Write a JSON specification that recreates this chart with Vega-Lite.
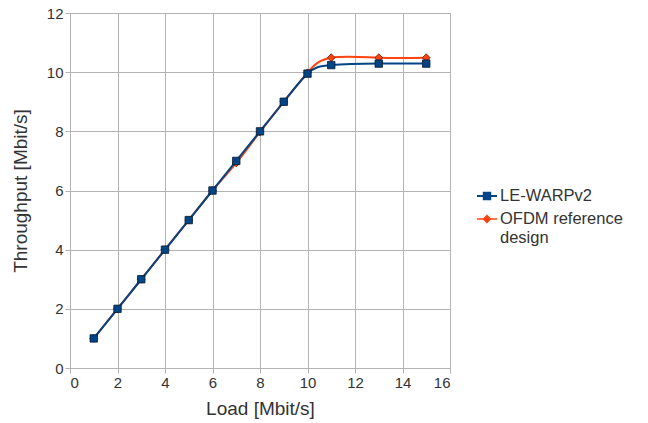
{
  "$schema": "https://vega.github.io/schema/vega-lite/v6.json",
  "width": 380,
  "height": 355,
  "autosize": {"type": "none"},
  "padding": {"left": 70, "top": 13, "right": 198, "bottom": 55},
  "background": "white",
  "config": {
    "font": "Liberation Sans",
    "view": {"stroke": "#b3b3b3", "strokeWidth": 1},
    "axis": {
      "gridColor": "#b3b3b3",
      "gridWidth": 1,
      "domain": false,
      "tickColor": "#b3b3b3",
      "tickSize": 5,
      "labelFontSize": 15,
      "labelColor": "#333333",
      "titleFontSize": 19,
      "titleFontWeight": "normal",
      "titleColor": "#333333",
      "labelPadding": 2
    }
  },
  "datasets": {
    "pts": [
      {"load": 1, "thr": 1, "series": "OFDM reference design"},
      {"load": 2, "thr": 2, "series": "OFDM reference design"},
      {"load": 3, "thr": 3, "series": "OFDM reference design"},
      {"load": 4, "thr": 4, "series": "OFDM reference design"},
      {"load": 5, "thr": 5, "series": "OFDM reference design"},
      {"load": 6, "thr": 6, "series": "OFDM reference design"},
      {"load": 7, "thr": 6.93, "series": "OFDM reference design"},
      {"load": 8, "thr": 7.98, "series": "OFDM reference design"},
      {"load": 9, "thr": 9, "series": "OFDM reference design"},
      {"load": 10, "thr": 9.98, "series": "OFDM reference design"},
      {"load": 11, "thr": 10.49, "series": "OFDM reference design"},
      {"load": 13, "thr": 10.49, "series": "OFDM reference design"},
      {"load": 15, "thr": 10.49, "series": "OFDM reference design"},
      {"load": 1, "thr": 1, "series": "LE-WARPv2"},
      {"load": 2, "thr": 2, "series": "LE-WARPv2"},
      {"load": 3, "thr": 3, "series": "LE-WARPv2"},
      {"load": 4, "thr": 4, "series": "LE-WARPv2"},
      {"load": 5, "thr": 5, "series": "LE-WARPv2"},
      {"load": 6, "thr": 6, "series": "LE-WARPv2"},
      {"load": 7, "thr": 7, "series": "LE-WARPv2"},
      {"load": 8, "thr": 8, "series": "LE-WARPv2"},
      {"load": 9, "thr": 9, "series": "LE-WARPv2"},
      {"load": 10, "thr": 9.95, "series": "LE-WARPv2"},
      {"load": 11, "thr": 10.24, "series": "LE-WARPv2"},
      {"load": 13, "thr": 10.29, "series": "LE-WARPv2"},
      {"load": 15, "thr": 10.29, "series": "LE-WARPv2"}
    ]
  },
  "data": {"name": "pts"},
  "encoding": {
    "x": {
      "field": "load", "type": "quantitative",
      "scale": {"domain": [0, 16], "nice": false, "zero": false},
      "axis": {"values": [0, 2, 4, 6, 8, 10, 12, 14, 16], "title": "Load [Mbit/s]", "titlePadding": 9}
    },
    "y": {
      "field": "thr", "type": "quantitative",
      "scale": {"domain": [0, 12], "nice": false},
      "axis": {"values": [0, 2, 4, 6, 8, 10, 12], "title": "Throughput [Mbit/s]", "titlePadding": 16}
    },
    "color": {
      "field": "series", "type": "nominal",
      "scale": {"domain": ["LE-WARPv2", "OFDM reference design"], "range": ["#004586", "#ff420e"]},
      "legend": {
        "title": null,
        "orient": "none",
        "legendX": 407,
        "legendY": 173,
        "symbolSize": 400,
        "symbolStrokeWidth": 0,
        "symbolOpacity": 1,
        "labelFontSize": 16.5,
        "labelColor": "#333333",
        "labelOffset": 3,
        "labelLimit": 300,
        "rowPadding": 4,
        "labelExpr": "datum.label == 'OFDM reference design' ? ['OFDM reference', 'design'] : datum.label"
      }
    }
  },
  "layer": [
    {
      "transform": [{"filter": "datum.series == 'OFDM reference design'"}],
      "mark": {"type": "line", "interpolate": "natural", "strokeWidth": 2}
    },
    {
      "transform": [{"filter": "datum.series == 'OFDM reference design'"}],
      "mark": {"type": "point", "shape": "diamond", "filled": true, "size": 60, "stroke": "#5a1a00", "strokeWidth": 0.8, "opacity": 1}
    },
    {
      "transform": [{"filter": "datum.series == 'LE-WARPv2'"}],
      "mark": {"type": "line", "interpolate": "natural", "strokeWidth": 2}
    },
    {
      "transform": [{"filter": "datum.series == 'LE-WARPv2'"}],
      "mark": {"type": "point", "shape": "square", "filled": true, "size": 55, "stroke": "#0a1a30", "strokeWidth": 0.8, "opacity": 1}
    },
    {
      "transform": [{"filter": "false"}],
      "mark": {"type": "point", "filled": true, "opacity": 1},
      "encoding": {
        "shape": {
          "field": "series", "type": "nominal",
          "scale": {
            "domain": ["LE-WARPv2", "OFDM reference design"],
            "range": [
              "M-1,-0.1H1V0.1H-1ZM-0.42,-0.42H0.42V0.42H-0.42Z",
              "M-1,-0.08H1V0.08H-1ZM0,-0.45L0.45,0L0,0.45L-0.45,0Z"
            ]
          },
          "legend": {
            "title": null,
            "orient": "none",
            "legendX": 407,
            "legendY": 173,
            "symbolSize": 400,
            "symbolStrokeWidth": 0,
            "symbolOpacity": 1,
            "labelFontSize": 16.5,
            "labelColor": "#333333",
            "labelOffset": 3,
            "labelLimit": 300,
            "rowPadding": 4,
            "labelExpr": "datum.label == 'OFDM reference design' ? ['OFDM reference', 'design'] : datum.label"
          }
        }
      }
    }
  ]
}
